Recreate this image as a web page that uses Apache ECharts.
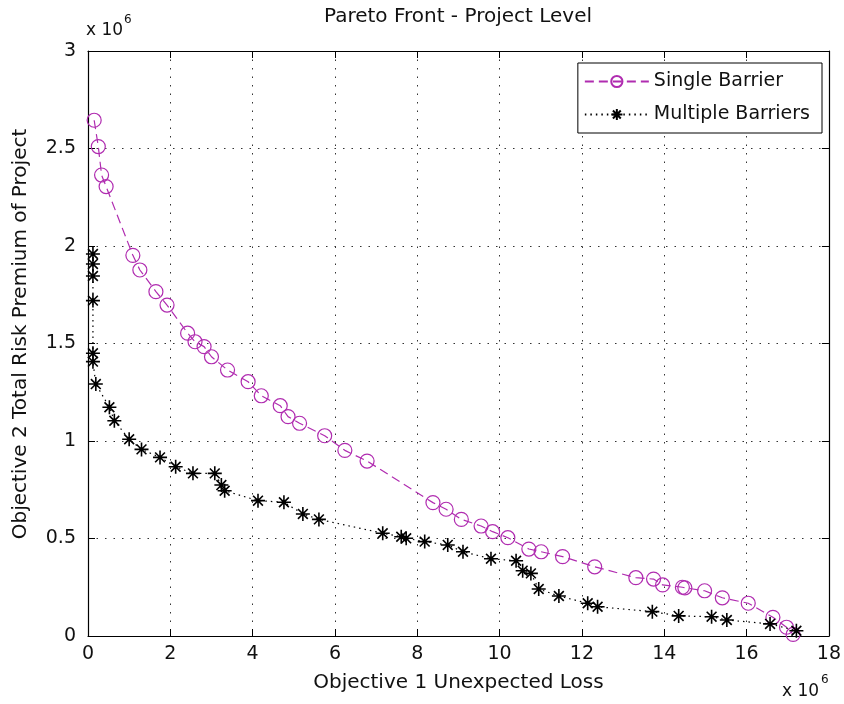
<!DOCTYPE html>
<html>
<head>
<meta charset="utf-8">
<script src="https://cdn.jsdelivr.net/npm/echarts@6/dist/echarts.min.js"></script>
<style>
  html, body { margin: 0; padding: 0; background: #ffffff; }
  #chart { width: 844px; height: 704px; }
</style>
</head>
<body>
<div id="chart"></div>
<script>
// Objective values in units of 1e6
const singleLoss = [0.15, 0.25, 0.33, 0.44, 1.09, 1.26, 1.65, 1.92, 2.42, 2.60, 2.82, 3.00, 3.39, 3.89, 4.21, 4.67, 4.86, 5.14, 5.75, 6.24, 6.78, 8.38, 8.70, 9.07, 9.55, 9.83, 10.20, 10.71, 11.01, 11.53, 12.31, 13.31, 13.74, 13.96, 14.44, 14.50, 14.98, 15.41, 16.04, 16.64, 16.97, 17.13];
const singlePremium = [2.645, 2.510, 2.364, 2.305, 1.952, 1.877, 1.766, 1.697, 1.553, 1.509, 1.484, 1.432, 1.364, 1.304, 1.232, 1.181, 1.125, 1.091, 1.027, 0.952, 0.897, 0.684, 0.650, 0.598, 0.564, 0.535, 0.504, 0.446, 0.432, 0.407, 0.355, 0.299, 0.292, 0.262, 0.250, 0.247, 0.232, 0.196, 0.168, 0.096, 0.045, 0.008];

const multiLoss = [0.12, 0.12, 0.12, 0.12, 0.12, 0.12, 0.19, 0.52, 0.64, 1.00, 1.30, 1.75, 2.13, 2.55, 3.08, 3.24, 3.32, 4.13, 4.76, 5.22, 5.61, 7.16, 7.61, 7.73, 8.18, 8.74, 9.11, 9.79, 10.40, 10.56, 10.76, 10.95, 11.44, 12.14, 12.38, 13.71, 14.35, 15.15, 15.52, 16.57, 17.21];
const multiPremium = [1.959, 1.908, 1.846, 1.720, 1.450, 1.407, 1.292, 1.173, 1.104, 1.009, 0.957, 0.916, 0.868, 0.834, 0.834, 0.774, 0.745, 0.694, 0.686, 0.626, 0.598, 0.527, 0.509, 0.501, 0.484, 0.467, 0.432, 0.396, 0.386, 0.335, 0.321, 0.241, 0.205, 0.168, 0.150, 0.125, 0.103, 0.099, 0.082, 0.062, 0.027];

const seriesNames = ['Single Barrier', 'Multiple Barriers'];
const titleText = 'Pareto Front - Project Level';
const xName = 'Objective 1 Unexpected Loss';
const yName = 'Objective 2 Total Risk Premium of Project';

const FONT = 'DejaVu Sans';
const MAGENTA = '#b02cb0';
const asterisk = 'path://M10,0L10,20M0,10L20,10M3,3L17,17M3,17L17,3';

const pairs = (xs, ys) => xs.map((x, i) => [x, ys[i]]);

const gridLine = { show: true, lineStyle: { color: '#333', width: 1, type: [1.5, 7] } };
const frameLine = { show: true, onZero: false, lineStyle: { color: '#000', width: 1.2 } };
const innerTick = { show: true, inside: true, length: 7, lineStyle: { color: '#000', width: 1 } };

const chart = echarts.init(document.getElementById('chart'), null, { renderer: 'canvas' });

chart.setOption({
  backgroundColor: '#ffffff',
  animation: false,
  textStyle: { fontFamily: FONT },
  grid: { left: 88, right: 14, top: 51, bottom: 68, containLabel: false },
  xAxis: [
    {
      type: 'value', position: 'bottom', min: 0, max: 18, interval: 2,
      axisLine: frameLine, axisTick: innerTick, splitLine: gridLine,
      axisLabel: { color: '#111', fontSize: 19, fontFamily: FONT, margin: 9 },
      name: xName, nameLocation: 'middle', nameGap: 37,
      nameTextStyle: { color: '#111', fontSize: 20, fontFamily: FONT, padding: [0, 0, 0, 0] }
    },
    {
      type: 'value', position: 'top', min: 0, max: 18, interval: 2,
      axisLine: frameLine, axisTick: innerTick, splitLine: { show: false },
      axisLabel: { show: false }
    }
  ],
  yAxis: [
    {
      type: 'value', position: 'left', min: 0, max: 3, interval: 0.5,
      axisLine: frameLine, axisTick: innerTick, splitLine: gridLine,
      axisLabel: { color: '#111', fontSize: 19, fontFamily: FONT, margin: 12 }
    },
    {
      type: 'value', position: 'right', min: 0, max: 3, interval: 0.5,
      axisLine: frameLine, axisTick: innerTick, splitLine: { show: false },
      axisLabel: { show: false }
    }
  ],
  legend: {
    orient: 'vertical',
    right: 22, top: 63,
    padding: [9, 12, 9, 6],
    itemGap: 14,
    itemWidth: 64, itemHeight: 14,
    backgroundColor: '#ffffff',
    borderColor: '#000', borderWidth: 1,
    textStyle: { color: '#111', fontSize: 19, fontFamily: FONT },
    data: seriesNames
  },
  series: [
    {
      name: seriesNames[0], type: 'line',
      xAxisIndex: 0, yAxisIndex: 0,
      data: pairs(singleLoss, singlePremium),
      symbol: 'circle', symbolSize: 14,
      itemStyle: { color: 'rgba(0,0,0,0)', borderColor: MAGENTA, borderWidth: 1.2 },
      lineStyle: { color: MAGENTA, width: 1.2, type: [9, 5] },
      z: 2
    },
    {
      name: seriesNames[1], type: 'line',
      xAxisIndex: 0, yAxisIndex: 0,
      data: pairs(multiLoss, multiPremium),
      symbol: asterisk, symbolSize: 14,
      itemStyle: { color: 'rgba(0,0,0,0)', borderColor: '#000', borderWidth: 1.6 },
      lineStyle: { color: '#000', width: 1.2, type: [1.5, 4] },
      z: 3
    }
  ],
  graphic: [
    {
      type: 'text', x: 458, y: 17,
      style: { text: titleText, fill: '#111', font: '20px "DejaVu Sans"', align: 'center', verticalAlign: 'middle' }
    },
    {
      type: 'text', x: 21, y: 334, rotation: Math.PI / 2,
      style: { text: yName, fill: '#111', font: '20px "DejaVu Sans"', align: 'center', verticalAlign: 'middle' }
    },
    {
      type: 'text', left: 86, top: 22,
      style: { text: 'x 10', fill: '#111', font: '17px "DejaVu Sans"' }
    },
    {
      type: 'text', left: 124, top: 14,
      style: { text: '6', fill: '#111', font: '12px "DejaVu Sans"' }
    },
    {
      type: 'text', left: 782, top: 683,
      style: { text: 'x 10', fill: '#111', font: '17px "DejaVu Sans"' }
    },
    {
      type: 'text', left: 821, top: 674,
      style: { text: '6', fill: '#111', font: '12px "DejaVu Sans"' }
    }
  ]
});
</script>
</body>
</html>
